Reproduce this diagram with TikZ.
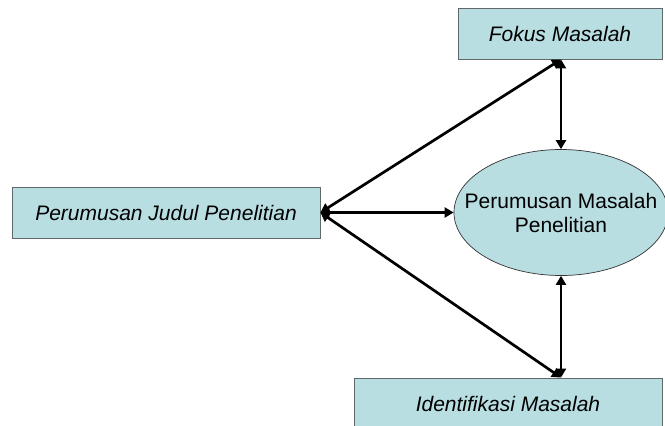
\documentclass[tikz,border=0pt]{standalone}
\usepackage{fontspec}
\setmainfont{Liberation Sans}
\usetikzlibrary{arrows.meta,shapes.geometric}
\definecolor{boxfill}{RGB}{184,222,226}
\definecolor{boxline}{RGB}{95,105,108}
\begin{document}
\begin{tikzpicture}[x=1pt,y=-1pt,
  txt/.style={font=\fontsize{21}{24}\selectfont},
  box/.style={draw=boxline,line width=0.9pt,fill=boxfill,rectangle,inner sep=0pt,
    font={\fontsize{21}{24}\selectfont\itshape}},
  oval/.style={draw=black!80,line width=0.7pt,fill=boxfill,ellipse,inner sep=0pt},
  link/.style={line width=2.7pt,{Triangle[length=9pt,width=10pt]}-{Triangle[length=9pt,width=10pt]}}]
  \useasboundingbox (0,0) rectangle (665,426);
  \clip (0,0) rectangle (665,426);
  % the four blocks
  \node[box,minimum width=204pt,minimum height=51pt] (fokus) at (560,33.5) {Fokus Masalah};
  \node[box,minimum width=308pt,minimum height=51pt] (judul) at (166,212.5) {Perumusan Judul Penelitian};
  \node[box,minimum width=308pt,minimum height=51pt] (ident) at (508,403.5) {Identifikasi Masalah};
  \node[oval,minimum width=214pt,minimum height=126pt,
    label={[txt,align=center,inner sep=0pt]center:Perumusan Masalah\\Penelitian}] (rumus) at (561,212.5) {};
  % connectors
  \coordinate (ftop) at (rumus.north |- fokus.south);
  \coordinate (ibot) at (rumus.south |- ident.north);
  \draw[link] (judul.east) -- (ftop);
  \draw[link] (judul.east) -- (ibot);
  \draw[link] (judul.east) -- (rumus.west);
  \draw[link] (ftop) -- (rumus.north);
  \draw[link] (ibot) -- (rumus.south);
\end{tikzpicture}
\end{document}
